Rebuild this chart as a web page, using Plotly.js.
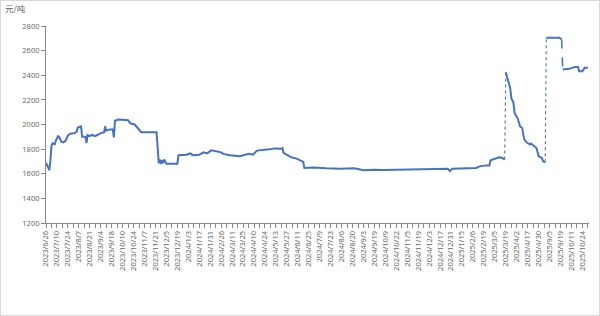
<!DOCTYPE html>
<html>
<head>
<meta charset="utf-8">
<script src="https://cdn.plot.ly/plotly-3.0.1.min.js"></script>
<style>
html,body{margin:0;padding:0;background:#fff;}
#chart{width:598px;height:314px;border:1px solid #d9d9d9;}
</style>
</head>
<body>
<div id="chart"></div>
<script>
// Category labels (every 10th trading-day position)
const labels = ["2023/6/26","2023/7/10","2023/7/24","2023/8/7","2023/8/21","2023/9/4","2023/9/18","2023/10/10","2023/10/24","2023/11/7","2023/11/21","2023/12/5","2023/12/19","2024/1/3","2024/1/17","2024/1/31","2024/2/26","2024/3/11","2024/3/25","2024/4/10","2024/4/24","2024/5/13","2024/5/27","2024/6/11","2024/6/25","2024/7/9","2024/7/23","2024/8/6","2024/8/20","2024/9/3","2024/9/19","2024/10/9","2024/10/22","2024/11/5","2024/11/19","2024/12/3","2024/12/17","2024/12/31","2025/1/15","2025/2/6","2025/2/19","2025/3/5","2025/3/19","2025/4/2","2025/4/17","2025/4/30","2025/9/5","2025/9/19","2025/10/11","2025/10/24"];

// Series 1 (position index, price 元/吨)
const s1Idx = [0,2,3,4,5,6,8,9,11,12,14,16,18,20,22,26,28,29,31,32,33,36,37,38,40,42,45,48,50,53,54,55,58,61,62,63,66,75,77,81,84,87,101,102,103,104,105,106,107,108,110,120,121,128,132,134,140,144,147,151,156,160,162,168,177,180,185,189,192,194,198,202,206,209,215,216,217,221,224,229,233,235,236,244,256,268,281,284,290,299,308,323,335,367,369,371,393,396,402,405,406,410,414,417,419];
const s1Val = [1690,1640,1630,1700,1830,1848,1840,1870,1905,1900,1860,1855,1870,1910,1925,1930,1940,1975,1985,1985,1900,1900,1850,1915,1905,1915,1905,1920,1930,1935,1985,1950,1960,1960,1895,2030,2040,2035,2010,2000,1972,1937,1937,1780,1685,1715,1680,1710,1685,1715,1682,1682,1750,1755,1765,1750,1755,1774,1765,1790,1780,1774,1761,1750,1742,1750,1763,1755,1782,1790,1790,1796,1801,1806,1804,1809,1769,1747,1734,1723,1701,1696,1647,1650,1644,1641,1644,1641,1628,1633,1631,1633,1633,1641,1620,1641,1647,1660,1668,1668,1709,1720,1734,1728,1715];

// Series 2
const s2Idx = [420,421,422,424,425,427,428,430,431,433,435,436,437,439,442,443,445,448,450,453,454,456];
const s2Val = [2424,2387,2365,2297,2216,2176,2094,2067,2046,1985,1972,1918,1877,1855,1837,1845,1828,1809,1742,1728,1701,1693];

// Series 3
const s3Idx = [457,469,471];
const s3Val = [2704,2704,2690];

// Series 4
const s4Idx = [472,478,483,486,487,490,492,495];
const s4Val = [2446,2452,2468,2468,2432,2432,2460,2460];

const yTicks = [1200,1400,1600,1800,2000,2200,2400,2600,2800];

const lineColor = '#4472c4';
const last = a => a[a.length-1];

function solid(x,y){return {x:x,y:y,type:'scatter',mode:'lines',line:{color:lineColor,width:2},hoverinfo:'skip',showlegend:false};}
function link(a,b,ay,by,dash,w){return {x:[last(a),b[0]],y:[last(ay),by[0]],type:'scatter',mode:'lines',line:{color:lineColor,width:w,dash:dash},hoverinfo:'skip',showlegend:false};}

const traces = [
  solid(s1Idx,s1Val),
  link(s1Idx,s2Idx,s1Val,s2Val,'dot',1.1),
  solid(s2Idx,s2Val),
  link(s2Idx,s3Idx,s2Val,s3Val,'dot',1.1),
  solid(s3Idx,s3Val),
  link(s3Idx,s4Idx,s3Val,s4Val,'dash',1.5),
  solid(s4Idx,s4Val)
];

const tickvals = [], ticktext = [];
labels.forEach((l,i)=>{
  tickvals.push(i*10); ticktext.push(l);
  tickvals.push(i*10+5); ticktext.push('');
});

const font = {family:'"Noto Sans", "Noto Sans CJK SC", sans-serif', size:7.5, color:'#6a6a6a'};

const layout = {
  width:598, height:314,
  margin:{l:45,r:10,t:25,b:92},
  paper_bgcolor:'#fff', plot_bgcolor:'#fff',
  showlegend:false,
  title:{text:'元/吨', x:4/598, xanchor:'left', y:1-8/314, yanchor:'middle',
         font:{family:'"Noto Sans CJK SC", sans-serif', size:8.5, color:'#666'}},
  xaxis:{range:[0,496], tickmode:'array', tickvals:tickvals, ticktext:ticktext,
         tickangle:-90, ticks:'outside', ticklen:4, tickcolor:'#888', tickwidth:1,
         showline:true, linecolor:'#888', linewidth:1, showgrid:false, zeroline:false,
         tickfont:font},
  yaxis:{range:[1200,2800], tickmode:'array', tickvals:yTicks,
         ticks:'outside', ticklen:4, tickcolor:'#888', tickwidth:1,
         showline:true, linecolor:'#888', linewidth:1, showgrid:false, zeroline:false,
         tickfont:font},
};

Plotly.newPlot('chart', traces, layout, {displayModeBar:false, staticPlot:true});
</script>
</body>
</html>
